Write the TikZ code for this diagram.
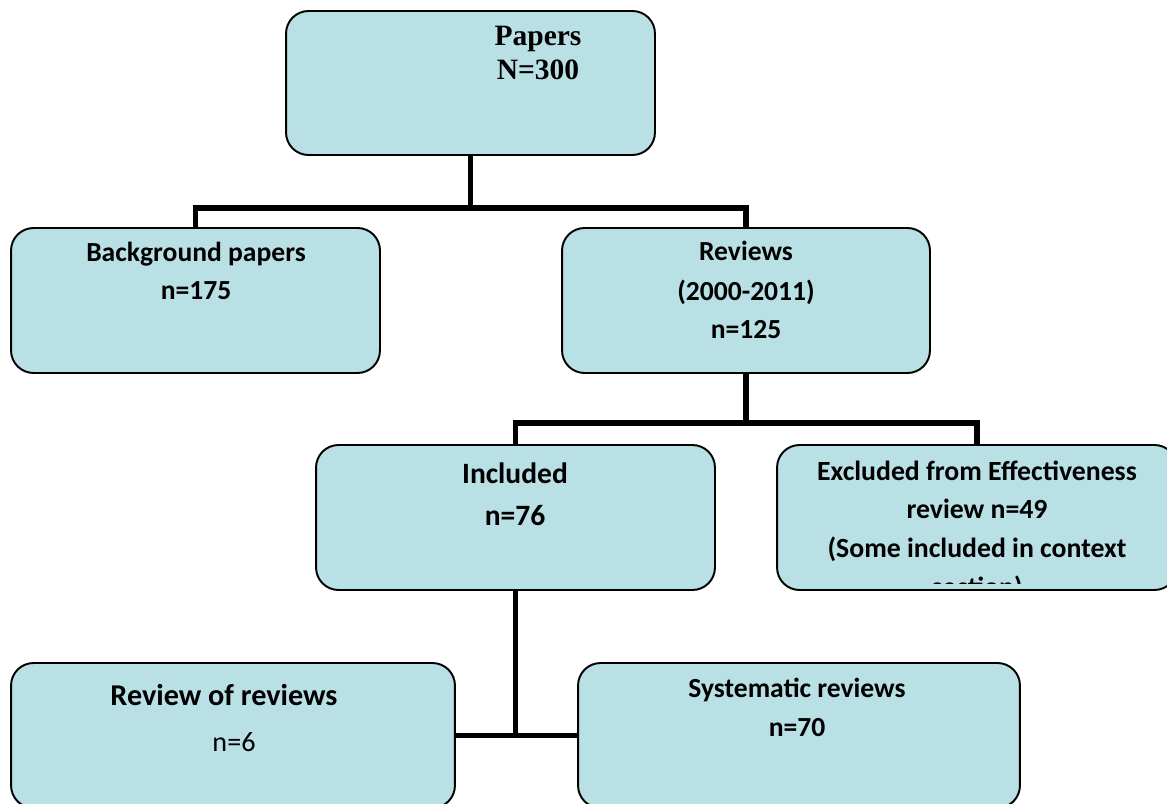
\documentclass[tikz,border=0pt]{standalone}
\usepackage{fontspec}
\setmainfont{Carlito}
\newfontfamily\timesfont{Liberation Serif}
\definecolor{boxfill}{RGB}{185,224,228}
\tikzset{
  box/.style={draw, line width=1.1pt, fill=boxfill, rounded corners=0.45cm, inner sep=0pt},
  conn/.style={line width=3.4pt},
  txt/.style={anchor=base, inner sep=0pt, font=\fontsize{15.7}{18}\selectfont\bfseries}
}
\begin{document}
\begin{tikzpicture}[x=0.02cm, y=-0.02cm]
  \clip (0,0) rectangle (1167,804);
  % boxes
  \node[box, minimum width=7.38cm, minimum height=2.88cm] (papers) at (470.5,83) {};
  \node[box, minimum width=7.38cm, minimum height=2.9cm] (bg) at (195.5,300.5) {};
  \node[box, minimum width=7.36cm, minimum height=2.9cm] (rev) at (746,300.5) {};
  \node[box, minimum width=7.98cm, minimum height=2.9cm] (inc) at (515.5,517.5) {};
  \node[box, minimum width=8cm, minimum height=2.9cm] (exc) at (977,517.5) {};
  \node[box, minimum width=8.88cm, minimum height=2.9cm] (rr) at (233,735.5) {};
  \node[box, minimum width=8.84cm, minimum height=2.9cm] (sr) at (799,735.5) {};
  % connectors
  \draw[conn] (papers.south) -- ++(0,52) coordinate (j1);
  \draw[conn] (bg.north) |- (j1) -| (rev.north);
  \draw[conn] (rev.south) -- ++(0,49) coordinate (j2);
  \draw[conn] (inc.north) |- (j2) -| (exc.north);
  \draw[conn] (inc.south) |- (rr.east);
  \draw[conn] (inc.south) |- (sr.west);
  % texts
  \node[txt, font=\fontsize{16.8}{19}\selectfont\timesfont\bfseries] (t1) at (538,46) {Papers};
  \node[txt, font=\fontsize{16.8}{19}\selectfont\timesfont\bfseries] (t2) at (538,80) {N=300};
  \node[txt] (t3) at (196,262) {Background papers};
  \node[txt] (t4) at (196,300) {n=175};
  \node[txt] (t5) at (746,261) {Reviews};
  \node[txt] (t6) at (746,301) {(2000-2011)};
  \node[txt] (t7) at (746,338) {n=125};
  \node[txt, font=\fontsize{16.8}{19}\selectfont\bfseries] (t8) at (515,483) {Included};
  \node[txt, font=\fontsize{16.8}{19}\selectfont\bfseries] (t9) at (515,525) {n=76};
  \begin{scope}
    \clip (777,445) rectangle (1167,583);
    \node[txt, font=\fontsize{15.8}{18}\selectfont\bfseries] (t10) at (977,480) {Excluded from Effectiveness};
    \node[txt, font=\fontsize{15.8}{18}\selectfont\bfseries] (t11) at (977,518) {review n=49};
    \node[txt, font=\fontsize{15.8}{18}\selectfont\bfseries] (t12) at (977,557) {(Some included in context};
    \node[txt, font=\fontsize{15.8}{18}\selectfont\bfseries] (t13) at (977,596) {section)};
  \end{scope}
  \node[txt, font=\fontsize{17.2}{20}\selectfont\bfseries] (t14) at (224,705) {Review of reviews};
  \node[txt, font=\fontsize{16}{19}\selectfont] (t15) at (234,751) {n=6};
  \node[txt] (t16) at (797,697) {Systematic reviews};
  \node[txt] (t17) at (797,736) {n=70};
\end{tikzpicture}
\end{document}
